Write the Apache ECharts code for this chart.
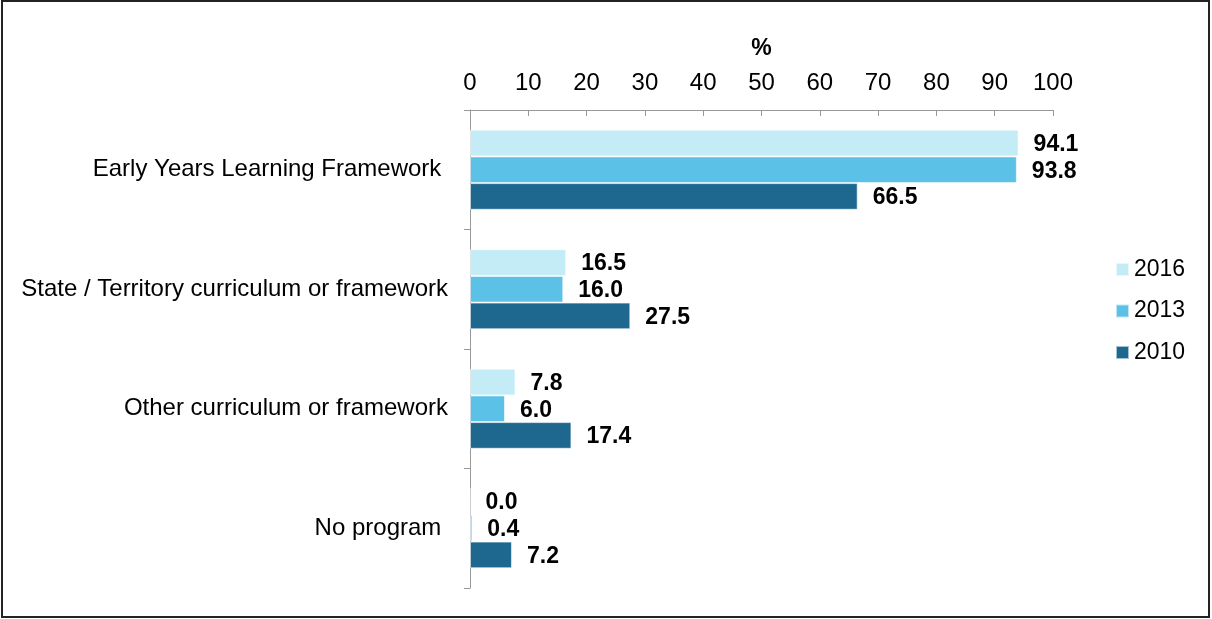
<!DOCTYPE html>
<html><head><meta charset="utf-8">
<script src="https://cdn.jsdelivr.net/npm/echarts@6/dist/echarts.min.js"></script>
<style>html,body{margin:0;padding:0;background:#fff}#c{width:1212px;height:619px}</style>
</head><body><div id="c"></div>
<script>
const categories = ['Early Years Learning Framework ', 'State / Territory curriculum or framework', 'Other curriculum or framework', 'No program '];
const years = ['2016', '2013', '2010'];
const v2016 = [94.1, 16.5, 7.8, 0.0];
const v2013 = [93.8, 16.0, 6.0, 0.4];
const v2010 = [66.5, 27.5, 17.4, 7.2];
const xTicks = [0, 10, 20, 30, 40, 50, 60, 70, 80, 90, 100];
const colors = ['#C4ECF7', '#5BC1E7', '#1E6890'];
const font = 'Liberation Sans, Arial, sans-serif';
const chart = echarts.init(document.getElementById('c'));
const mk = (name, data, i) => ({
  name, type: 'bar', data, barGap: '0%', barCategoryGap: '33%',
  itemStyle: { color: colors[i], borderColor: 'rgba(255,255,255,0.6)', borderWidth: 1 },
  label: { show: true, position: 'right', distance: 15, offset: [0, 1.5], color: '#000', fontWeight: 'bold', fontSize: 23, fontFamily: font,
    formatter: p => p.value.toFixed(1) }
});
chart.setOption({
  animation: false,
  graphic: [{ type: 'rect', shape: { x: 2, y: 1, width: 1207, height: 616 }, style: { fill: 'none', stroke: '#222', lineWidth: 2 }, z: 100 }],
  grid: { left: 470, right: 159, top: 110, bottom: 31, containLabel: false },
  legend: { orient: 'vertical', left: 1110, top: 253, itemWidth: 13, itemHeight: 13, itemGap: 18.5, icon: 'rect',
    textStyle: { fontSize: 23, fontFamily: font, color: '#000' }, data: years },
  xAxis: { type: 'value', position: 'top', min: 0, max: 100, interval: 10,
    name: '%', nameLocation: 'middle', nameGap: 50, nameTextStyle: { fontSize: 23, fontWeight: 'bold', fontFamily: font, color: '#000' },
    axisLine: { show: true, lineStyle: { color: '#999' } },
    axisTick: { show: true, inside: true, length: 6, lineStyle: { color: '#999' } },
    axisLabel: { fontSize: 24, fontFamily: font, color: '#000', margin: 15, formatter: v => xTicks.includes(v) ? String(v) : '' },
    splitLine: { show: false } },
  yAxis: { type: 'category', inverse: true, data: categories,
    axisLine: { show: true, lineStyle: { color: '#999' } },
    axisTick: { show: true, length: 6, lineStyle: { color: '#999' } },
    axisLabel: { fontSize: 24, fontFamily: font, color: '#000', margin: 22 } },
  series: [mk('2016', v2016, 0), mk('2013', v2013, 1), mk('2010', v2010, 2)]
});
</script></body></html>
